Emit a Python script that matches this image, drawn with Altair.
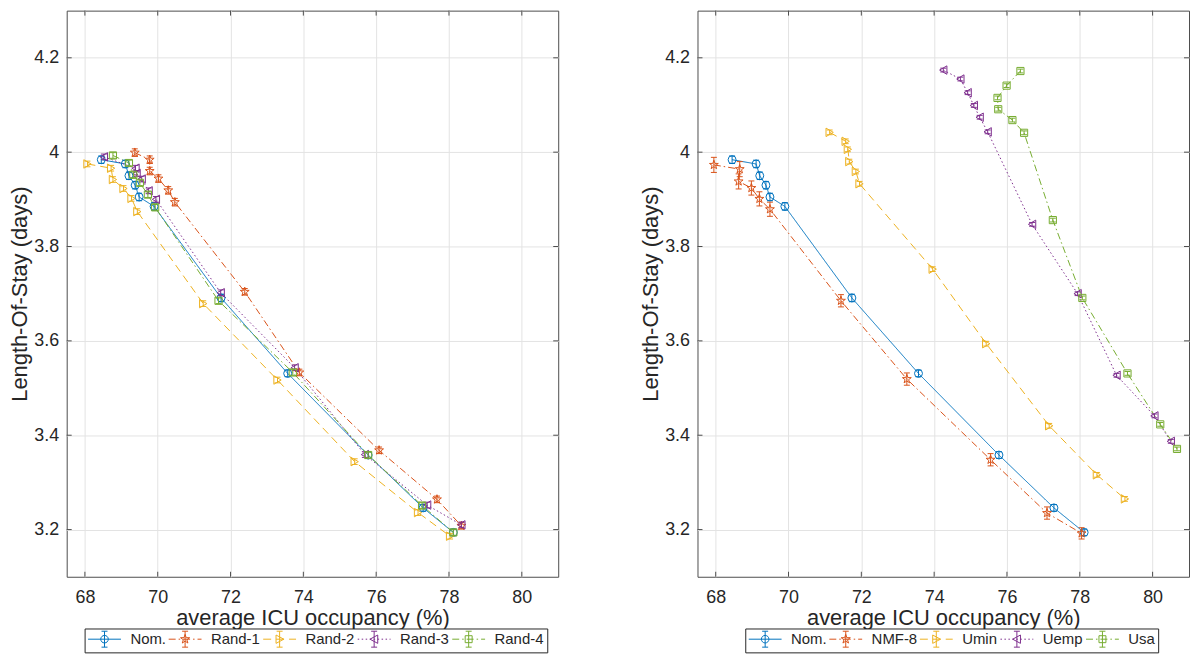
import math
import altair as alt
import pandas as pd

# ---------------- data ----------------
LEFT_NAMES = ["Nom.", "Rand-1", "Rand-2", "Rand-3", "Rand-4"]
RIGHT_NAMES = ["Nom.", "NMF-8", "Umin", "Uemp", "Usa"]

nom_x = [68.45, 69.11, 69.21, 69.38, 69.49, 69.90, 71.74, 73.57, 75.78, 77.29, 78.12]
nom_y = [3.984, 3.975, 3.950, 3.930, 3.905, 3.885, 3.691, 3.531, 3.358, 3.246, 3.194]
nom_e = [0.008, 0.008, 0.008, 0.008, 0.008, 0.008, 0.008, 0.007, 0.007, 0.007, 0.007]

rand1_x = [69.37, 69.78, 69.78, 70.02, 70.29, 70.47, 72.39, 73.89, 76.08, 77.67, 78.34]
rand1_y = [3.999, 3.984, 3.960, 3.944, 3.919, 3.894, 3.704, 3.533, 3.368, 3.264, 3.208]
rand1_e = [0.008, 0.008, 0.008, 0.008, 0.008, 0.008, 0.007, 0.007, 0.007, 0.007, 0.007]

rand2_x = [68.07, 68.72, 68.77, 69.06, 69.28, 69.44, 71.25, 73.29, 75.41, 77.15, 78.03]
rand2_y = [3.975, 3.966, 3.942, 3.923, 3.902, 3.874, 3.679, 3.517, 3.344, 3.236, 3.186]
rand2_e = [0.006, 0.006, 0.006, 0.006, 0.006, 0.006, 0.006, 0.006, 0.006, 0.006, 0.006]

rand3_x = [68.52, 69.39, 69.42, 69.56, 69.75, 69.95, 71.73, 73.76, 75.69, 77.40, 78.34]
rand3_y = [3.990, 3.966, 3.955, 3.943, 3.918, 3.900, 3.702, 3.543, 3.359, 3.252, 3.210]
rand3_e = [0.006, 0.006, 0.006, 0.006, 0.006, 0.006, 0.006, 0.006, 0.006, 0.006, 0.006]

rand4_x = [68.77, 69.21, 69.33, 69.51, 69.73, 69.93, 71.67, 73.71, 75.78, 77.26, 78.12]
rand4_y = [3.993, 3.977, 3.952, 3.935, 3.910, 3.883, 3.685, 3.533, 3.358, 3.251, 3.194]
rand4_e = [0.006, 0.006, 0.006, 0.006, 0.006, 0.006, 0.006, 0.006, 0.006, 0.006, 0.006]

nmf8_x = [67.95, 68.66, 68.63, 68.98, 69.20, 69.49, 71.44, 73.25, 75.55, 77.10, 78.05]
nmf8_y = [3.973, 3.964, 3.938, 3.924, 3.901, 3.879, 3.685, 3.519, 3.348, 3.235, 3.192]
nmf8_e = [0.016, 0.016, 0.016, 0.015, 0.015, 0.015, 0.013, 0.013, 0.013, 0.013, 0.012]

umin_x = [71.13, 71.57, 71.63, 71.67, 71.85, 71.95, 73.96, 75.43, 77.16, 78.47, 79.24]
umin_y = [4.042, 4.023, 4.006, 3.980, 3.959, 3.933, 3.752, 3.594, 3.420, 3.316, 3.265]
umin_e = [0.005, 0.005, 0.005, 0.005, 0.005, 0.005, 0.005, 0.005, 0.005, 0.005, 0.005]

uemp_x = [74.25, 74.72, 74.92, 75.09, 75.25, 75.47, 76.69, 77.94, 79.01, 80.05, 80.50]
uemp_y = [4.174, 4.155, 4.126, 4.099, 4.074, 4.043, 3.847, 3.700, 3.527, 3.441, 3.387]
uemp_e = [0.004, 0.004, 0.004, 0.004, 0.004, 0.004, 0.004, 0.004, 0.004, 0.004, 0.004]

usa_x = [76.37, 75.99, 75.74, 75.76, 76.15, 76.47, 77.26, 78.07, 79.31, 80.21, 80.67]
usa_y = [4.172, 4.141, 4.115, 4.091, 4.068, 4.041, 3.856, 3.691, 3.531, 3.423, 3.371]
usa_e = [0.004, 0.004, 0.004, 0.004, 0.004, 0.004, 0.004, 0.004, 0.004, 0.004, 0.004]

X_TICKS = [68, 70, 72, 74, 76, 78, 80]
Y_TICKS = [3.2, 3.4, 3.6, 3.8, 4.0, 4.2]
X_DOMAIN = [67.5, 81]
Y_DOMAIN = [3.1, 4.3]
X_TITLE = "average ICU occupancy (%)"
Y_TITLE = "Length-Of-Stay (days)"

# ---------------- styles ----------------
COLORS = ["#0072BD", "#D95319", "#EDB120", "#7E2F8E", "#77AC30"]
DASHES = [[1, 0], [7, 3, 1.5, 3], [8, 5], [1.5, 2.5], [7, 3, 1.5, 3]]
FONT = "Liberation Sans"
TXT = "#262626"
FRAME = "#4d4d4d"


def star_path(r_out, r_in, cx=0.0, cy=0.0):
    pts = []
    for k in range(10):
        r = r_out if k % 2 == 0 else r_in
        a = -math.pi / 2 + k * math.pi / 5
        pts.append((cx + r * math.cos(a), cy + r * math.sin(a)))
    return "M" + "L".join(f"{px:.3f},{py:.3f}" for px, py in pts) + "Z"


MARKERS = ["circle", star_path(1.25, 0.5), "triangle-right", "triangle-left", "square"]
SIZES = [64, 56, 72, 72, 52]

LX0, LX1, LCX = -7.0, 26.0, 9.5   # legend sample line start/end and marker centre


def dash_line(pattern, x0=LX0, x1=LX1):
    parts = []
    x = x0
    i = 0
    while x < x1:
        on = pattern[i % len(pattern)]
        off = pattern[(i + 1) % len(pattern)]
        e = min(x + on, x1)
        parts.append(f"M{x:.2f},0H{e:.2f}")
        x = e + off
        i += 2
    return "".join(parts)


def legend_marker(k, cx):
    if k == 0:
        r = 3.8
        return f"M{cx + r},0A{r},{r},0,1,1,{cx - r},0A{r},{r},0,1,1,{cx + r},0Z"
    if k == 1:
        return star_path(4.8, 1.9, cx, 0)
    if k == 2:
        return f"M{cx + 4.2},0L{cx - 3.6},-4.2L{cx - 3.6},4.2Z"
    if k == 3:
        return f"M{cx - 4.2},0L{cx + 3.6},-4.2L{cx + 3.6},4.2Z"
    return f"M{cx - 3.5},-3.5H{cx + 3.5}V3.5H{cx - 3.5}Z"


def legend_path(k):
    cx = LCX
    err = f"M{cx},-8V8M{cx - 3},-8H{cx + 3}M{cx - 3},8H{cx + 3}"
    pattern = DASHES[k] if k != 0 else [33, 0]
    return dash_line(pattern) + legend_marker(k, cx) + err


LEGEND_PATHS = [legend_path(k) for k in range(5)]


def build_df(names, xs, ys, es):
    rows = []
    for name, xl, yl, el in zip(names, xs, ys, es):
        for i, (x, y, e) in enumerate(zip(xl, yl, el)):
            rows.append(dict(series=name, i=i, x=x, y=y, lo=y - e, hi=y + e))
    return pd.DataFrame(rows)


left_df = build_df(
    LEFT_NAMES,
    [nom_x, rand1_x, rand2_x, rand3_x, rand4_x],
    [nom_y, rand1_y, rand2_y, rand3_y, rand4_y],
    [nom_e, rand1_e, rand2_e, rand3_e, rand4_e],
)
right_df = build_df(
    RIGHT_NAMES,
    [nom_x, nmf8_x, umin_x, uemp_x, usa_x],
    [nom_y, nmf8_y, umin_y, uemp_y, usa_y],
    [nom_e, nmf8_e, umin_e, uemp_e, usa_e],
)
xtick_df = pd.DataFrame({"v": X_TICKS, "b": Y_DOMAIN[0], "t": Y_DOMAIN[1]})
ytick_df = pd.DataFrame({"v": Y_TICKS, "l": X_DOMAIN[0], "r": X_DOMAIN[1]})

X_SCALE = alt.Scale(domain=X_DOMAIN, nice=False, zero=False)
Y_SCALE = alt.Scale(domain=Y_DOMAIN, nice=False, zero=False)
X_AXIS = alt.Axis(values=X_TICKS, title=X_TITLE, grid=True, labelPadding=12, titlePadding=1)
Y_AXIS = alt.Axis(values=Y_TICKS, title=Y_TITLE, format="~g", grid=True, labelPadding=8, titlePadding=2)

PW, PH = 494, 569


def X(field):
    return alt.X(field, scale=X_SCALE, axis=X_AXIS)


def Y(field):
    return alt.Y(field, scale=Y_SCALE, axis=Y_AXIS)


def frame_ticks():
    tl = 5
    xt = alt.Chart(xtick_df)
    yt = alt.Chart(ytick_df)
    return [
        xt.mark_rule(strokeWidth=1, color=FRAME, y2Offset=-tl).encode(X("v:Q"), Y("b:Q"), y2="b:Q"),
        xt.mark_rule(strokeWidth=1, color=FRAME, y2Offset=tl).encode(X("v:Q"), Y("t:Q"), y2="t:Q"),
        yt.mark_rule(strokeWidth=1, color=FRAME, x2Offset=tl).encode(X("l:Q"), x2="l:Q", y=Y("v:Q")),
        yt.mark_rule(strokeWidth=1, color=FRAME, x2Offset=-tl).encode(X("r:Q"), x2="r:Q", y=Y("v:Q")),
    ]


def panel(df, names, leg_x):
    base = alt.Chart(df)
    layers = frame_ticks()
    for k, n in enumerate(names):
        sub = base.transform_filter(alt.datum.series == n)
        c = COLORS[k]
        layers.append(
            sub.mark_line(strokeWidth=1, color=c, strokeDash=DASHES[k]).encode(
                X("x:Q"), Y("y:Q"), order="i:Q"
            )
        )
    for k, n in enumerate(names):
        sub = base.transform_filter(alt.datum.series == n)
        c = COLORS[k]
        layers.append(sub.mark_rule(strokeWidth=1, color=c).encode(X("x:Q"), Y("lo:Q"), y2="hi:Q"))
        for f in ("lo:Q", "hi:Q"):
            layers.append(
                sub.mark_rule(strokeWidth=1, color=c, xOffset=-3, x2Offset=3).encode(
                    X("x:Q"), x2="x:Q", y=Y(f)
                )
            )
        layers.append(
            sub.mark_point(shape=MARKERS[k], size=SIZES[k], filled=False, strokeWidth=1,
                           opacity=1, color=c).encode(X("x:Q"), Y("y:Q"))
        )
    leg = alt.Legend(
        orient="none", legendX=leg_x, legendY=PH + 52, direction="horizontal", title=None,
        symbolSize=4, symbolStrokeWidth=1, labelOffset=28, columnPadding=0,
        labelFont=FONT, labelFontSize=15, labelColor=TXT, padding=3,
        strokeColor="#262626", fillColor="white", symbolOffset=0,
    )
    leg_layer = base.transform_filter("datum.x < 0").mark_point(filled=False, strokeWidth=1, opacity=1).encode(
        X("x:Q"), Y("y:Q"),
        color=alt.Color("series:N", scale=alt.Scale(domain=names, range=COLORS), legend=leg),
        shape=alt.Shape("series:N", scale=alt.Scale(domain=names, range=LEGEND_PATHS), legend=leg),
    )
    layers.append(leg_layer)
    return alt.layer(*layers).properties(width=PW, height=PH)


left = panel(left_df, LEFT_NAMES, 18)
right = panel(right_df, RIGHT_NAMES, 48)

chart = (
    alt.hconcat(left, right, spacing=80)
    .resolve_scale(color="independent", shape="independent")
    .resolve_legend(color="independent", shape="independent")
    .properties(padding={"left": 0, "top": 0, "right": 0, "bottom": 0}, background="white")
    .configure(font=FONT)
    .configure_view(stroke=FRAME, strokeWidth=1)
    .configure_axis(
        domain=False, ticks=False, gridColor="#e3e3e3", gridWidth=1,
        labelFont=FONT, labelFontSize=18, labelColor=TXT,
        titleFont=FONT, titleFontSize=22, titleFontWeight="normal", titleColor=TXT,
    )
)

chart.save("out.html", embed_options={"renderer": "svg", "actions": False})
